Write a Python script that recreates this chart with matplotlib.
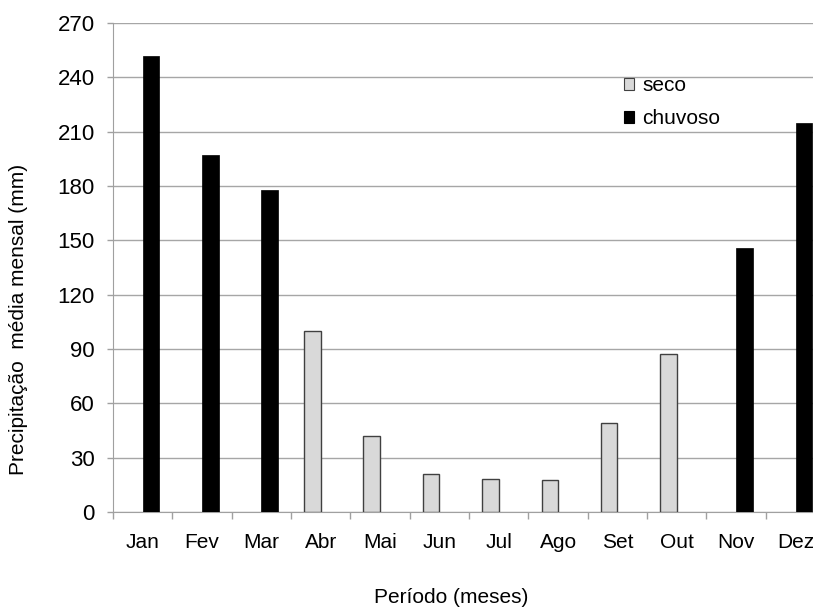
import numpy as np
import matplotlib.pyplot as plt

plt.rcParams['font.family'] = ['Liberation Sans', 'DejaVu Sans']

meses = ['Jan', 'Fev', 'Mar', 'Abr', 'Mai', 'Jun', 'Jul', 'Ago', 'Set', 'Out', 'Nov', 'Dez']
# seco / chuvoso precipitation (mm), zero where month belongs to the other period
seco = [0, 0, 0, 100, 42, 21, 18, 17.8, 49.3, 87, 0, 0]
chuvoso = [252, 197, 178, 0, 0, 0, 0, 0, 0, 0, 146, 215]
yticks = list(range(0, 271, 30))

fig = plt.figure(figsize=(8.13, 6.10), dpi=100)
ax = fig.add_axes([0.139, 0.1607, 0.876, 0.8016])

x = np.arange(len(meses))
w = 0.28
seco_a = np.array(seco, dtype=float)
chuv_a = np.array(chuvoso, dtype=float)
ms = seco_a > 0
mc = chuv_a > 0
ax.bar(x[ms] - w / 2, seco_a[ms], w, color='#d9d9d9', edgecolor='#404040', linewidth=1.0,
       label='seco', zorder=3)
ax.bar(x[mc] + w / 2, chuv_a[mc], w, color='black', edgecolor='black', linewidth=0.5,
       label='chuvoso', zorder=3)

ax.set_xlim(-0.5, len(meses) - 0.5)
ax.set_ylim(0, 270)
ax.set_yticks(yticks)
ax.set_yticklabels([str(v) for v in yticks], fontsize=16)
ax.yaxis.grid(True, color='#a6a6a6', lw=1.0, zorder=0)

# tick marks at category boundaries, labels at centers
ax.set_xticks(np.arange(-0.5, len(meses), 1.0))
ax.set_xticklabels([])
ax.set_xticks(x, minor=True)
ax.set_xticklabels(meses, minor=True, fontsize=15)
ax.tick_params(axis='x', which='major', length=5, color='#a0a0a0', width=1)
ax.tick_params(axis='x', which='minor', length=0, pad=15)
ax.tick_params(axis='y', length=4.5, color='#a0a0a0', width=1, pad=8.5)

for s in ['top', 'right']:
    ax.spines[s].set_visible(False)
ax.spines['left'].set_color('#a0a0a0')
ax.spines['bottom'].set_color('#a0a0a0')

ax.set_xlabel('Período (meses)', fontsize=15, va='top')
ax.xaxis.set_label_coords(0.4745, -0.155)
ax.set_ylabel('Precipitação  média mensal (mm)', fontsize=15, va='center')
ax.yaxis.set_label_coords(-0.1325, 0.393)

leg = ax.legend(loc='upper left', bbox_to_anchor=(0.7176, 0.891), frameon=False,
                fontsize=15, handlelength=0.5, handleheight=0.5, borderpad=0,
                borderaxespad=0, handletextpad=0.38, labelspacing=0.66)
for h in leg.legend_handles:
    h.set_linewidth(0.8)

fig.savefig('out.png', dpi=100)
